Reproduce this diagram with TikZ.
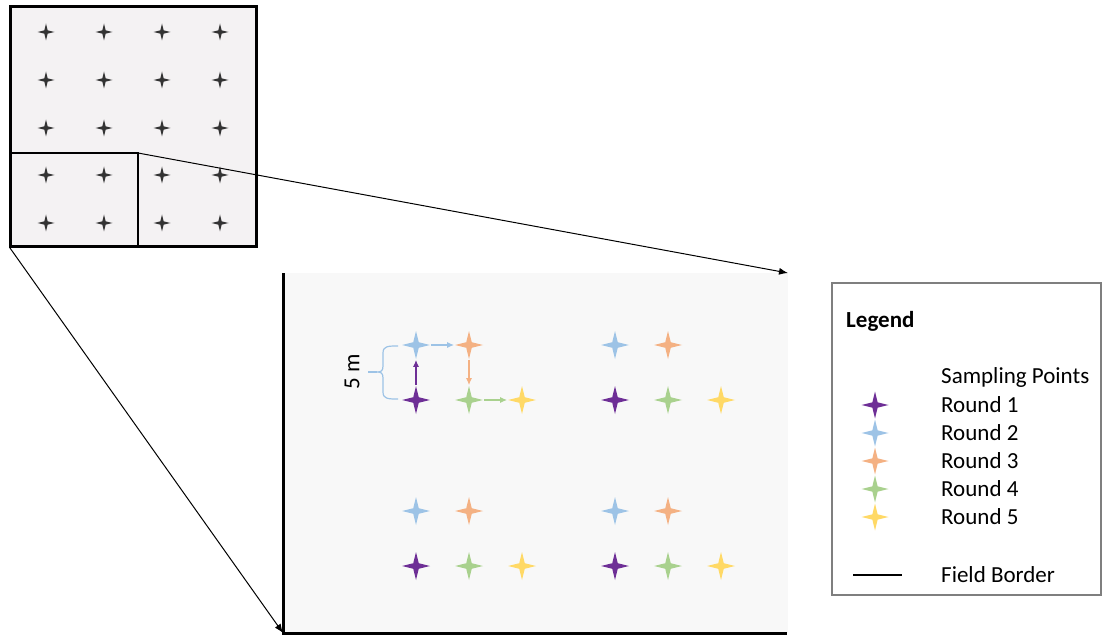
\documentclass[tikz,border=0pt]{standalone}
\usepackage{fontspec}
\setmainfont{Carlito}
\usetikzlibrary{shapes.geometric,arrows.meta}
\definecolor{cpur}{HTML}{6E2F96}
\definecolor{cblu}{HTML}{9DC3E6}
\definecolor{cora}{HTML}{F4B183}
\definecolor{cgre}{HTML}{A9D18E}
\definecolor{cyel}{HTML}{FFD966}
\definecolor{fieldA}{HTML}{F4F2F3}
\definecolor{fieldB}{HTML}{F8F8F8}
\definecolor{legbox}{HTML}{7F7F7F}
\begin{document}
\begin{tikzpicture}[x=1pt,y=-1pt,
  spt/.style={star, star points=4, star point ratio=3.6, inner sep=0pt, minimum size=28pt, draw=none, fill=#1},
  lpt/.style={star, star points=4, star point ratio=3.6, inner sep=0pt, minimum size=27pt, draw=none, fill=#1},
  gpt/.style={star, star points=4, star point ratio=3.6, inner sep=0pt, minimum size=17pt, draw=none, fill=black!80},
  zoomarrow/.style={line width=1pt, -{Latex[length=9pt,width=7pt]}},
  patharrow/.style={line width=1.3pt, draw=#1, -{Latex[length=7pt,width=6pt]}},
  txt/.style={font=\fontsize{23}{28}\selectfont, inner sep=0pt, anchor=west},
]
\useasboundingbox (0,0) rectangle (1102,636);

% overview field
\fill[fieldA] (10,7) rectangle (256,247);
\foreach \i/\x in {1/46,2/104,3/162,4/220}
  \foreach \j/\y in {1/32,2/80,3/128,4/175,5/223}
    \node[gpt] (g\i\j) at (\x,\y) {};
\draw[line width=1.2pt] (10,153) rectangle (138,247);
\draw[line width=3pt] (10,7) rectangle (256,247);

% detail field
\fill[fieldB] (283,273) rectangle (788,633);
\draw[line width=3pt] (283,273) -- (283,633) -- (787,633);

\coordinate (subTR) at (138,153);
\coordinate (subBL) at (10,248);
\coordinate (detTR) at (788,273);
\coordinate (detBL) at (283,633);
\draw[zoomarrow] (subTR) -- (detTR);
\draw[zoomarrow] (subBL) -- (detBL);

% clusters
\foreach \c/\x/\y in {a/416/400,b/615/400,c/416/566,d/615/566} {
  \node[spt=cpur] (\c1) at (\x,\y) {};
  \node[spt=cblu] (\c2) at (\x,\y-55) {};
  \node[spt=cora] (\c3) at (\x+53,\y-55) {};
  \node[spt=cgre] (\c4) at (\x+53,\y) {};
  \node[spt=cyel] (\c5) at (\x+106,\y) {};
}
\draw[patharrow=cpur] (a1) -- (a2);
\draw[patharrow=cblu] (a2) -- (a3);
\draw[patharrow=cora] (a3) -- (a4);
\draw[patharrow=cgre] (a4) -- (a5);

% 5 m brace
\draw[cblu, line width=1.2pt]
  (398,346) .. controls (388,346) and (383,346) .. (383,353) -- (383,366)
  .. controls (383,371) and (381,372) .. (377,372)
  .. controls (381,372) and (383,373) .. (383,378) -- (383,392)
  .. controls (383,399) and (388,399) .. (398,399);
\draw[cblu, line width=1.2pt] (368,372) -- (377,372);
\node[font=\fontsize{23}{28}\selectfont, inner sep=0pt, rotate=90] (fivem) at (352,372) {5 m};

% legend
\draw[legbox, line width=1.3pt] (832,283) rectangle (1101,595);
\node[txt, font=\fontsize{23}{28}\selectfont\bfseries] (legt) at (846,321) {Legend};
\node[txt] (lsp) at (941,377) {Sampling Points};
\node[lpt=cpur] (l1) at (875,405) {};
\node[lpt=cblu] (l2) at (875,433) {};
\node[lpt=cora] (l3) at (875,461) {};
\node[lpt=cgre] (l4) at (875,489) {};
\node[lpt=cyel] (l5) at (875,517) {};
\node[txt] (r1) at (941,405) {Round 1};
\node[txt] (r2) at (941,433) {Round 2};
\node[txt] (r3) at (941,461) {Round 3};
\node[txt] (r4) at (941,489) {Round 4};
\node[txt] (r5) at (941,517) {Round 5};
\coordinate (fbA) at (853,575);
\coordinate (fbB) at (902,575);
\draw[line width=2.5pt] (fbA) -- (fbB);
\node[txt] (fb) at (941,575) {Field Border};
\end{tikzpicture}
\end{document}
